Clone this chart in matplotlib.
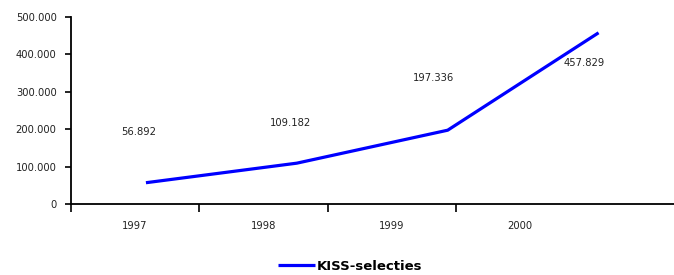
import matplotlib.pyplot as plt
from matplotlib.ticker import FuncFormatter

# data
years = ["1997", "1998", "1999", "2000"]
selecties = [56892, 109182, 197336, 457829]
value_labels = ["56.892", "109.182", "197.336", "457.829"]
y_ticks = [0, 100000, 200000, 300000, 400000, 500000]

# offsets (pixels) of the value labels relative to the points
label_offsets = [(-7, 51), (-6, 40), (-14, 52), (-14, -30)]

plt.rcParams["font.family"] = ["DejaVu Sans"]

fig = plt.figure(figsize=(6.74, 2.75), dpi=100)
left = 70.5 / 674
bottom = 71 / 275
ax = fig.add_axes([left, bottom, 1 - left, 187 / 275])

x = list(range(len(years)))
line, = ax.plot(x, selecties, color="#0000ff", lw=2.3, solid_capstyle="butt",
                label="KISS-selecties", clip_on=False)
ax.set_xlim(-0.5, 3.5)
ax.set_ylim(0, 500000)

for xi, yi, txt, off in zip(x, selecties, value_labels, label_offsets):
    ax.annotate(txt, (xi, yi), xytext=off, textcoords="offset pixels",
                ha="center", va="center", fontsize=7.2, color="#222222")

ax.set_yticks(y_ticks)
ax.yaxis.set_major_formatter(FuncFormatter(lambda v, p: f"{int(v):,}".replace(",", ".")))
ax.tick_params(axis="y", direction="out", length=4, width=1.2, labelsize=7.2,
               pad=6, colors="black", labelcolor="#222222")
ax.set_xticks([])
for s in ["top", "right"]:
    ax.spines[s].set_visible(False)
ax.spines["left"].set_linewidth(1.3)
ax.spines["bottom"].set_linewidth(1.3)

# category axis with its own spacing
ax2 = ax.twiny()
ax2.set_xlim(-0.5, -0.5 + (674 - 70.5) / 128.5)
ax2.xaxis.set_ticks_position("bottom")
ax2.xaxis.set_label_position("bottom")
ax2.set_xticks(x)
ax2.set_xticklabels(years)
ax2.set_xticks([i - 0.5 for i in x], minor=True)
ax2.tick_params(axis="x", which="major", length=0, labelsize=7.2, pad=12,
                labelcolor="#222222")
ax2.tick_params(axis="x", which="minor", direction="out", length=6, width=1.2)
for s in ["top", "right", "left", "bottom"]:
    ax2.spines[s].set_visible(False)

fig.legend(handles=[line], loc="center", bbox_to_anchor=(350 / 674, 1 - 266 / 275),
           frameon=False, handlelength=2.8, handletextpad=0.1,
           prop={"weight": "bold", "size": 9.5})

fig.savefig("out.png", dpi=100)
